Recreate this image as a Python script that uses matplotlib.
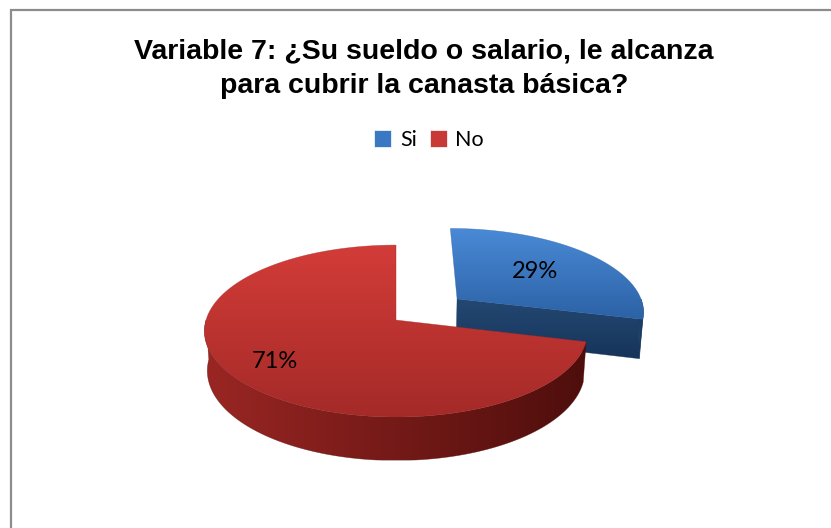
import numpy as np
import matplotlib.pyplot as plt
from matplotlib.patches import Polygon, Patch, Rectangle
from matplotlib.colors import LinearSegmentedColormap

# datos de la variable 7
labels = ['Si', 'No']
values = [29, 71]
explode = [0.42, 0.0]

top_colors = [('#4a8ad6', '#2c62a6'), ('#d33c38', '#a42a28')]
side_colors = [('#234872', '#17345a'), ('#9a2623', '#4e0e0c')]
legend_colors = ['#3a78c4', '#c83a36']
label_r = [0.58, 0.76]

# vista 3D: elevacion, perspectiva y grosor
sin_e = 0.445
cos_e = np.sqrt(1 - sin_e ** 2)
persp = 0.143
height = 0.235

fig = plt.figure(figsize=(8.31, 5.28), dpi=100)
fig.patch.set_facecolor('white')

ax = fig.add_axes([150 / 831, 28 / 528, 550 / 831, 320 / 528])
ax.set_xlim(-1.295, 1.6)
ax.set_ylim(-0.947, 0.737)
ax.set_autoscale_on(False)
ax.axis('off')


def project(X, Y, Z):
    X, Y, Z = np.broadcast_arrays(X, Y, Z)
    k = 1.0 / (1.0 + persp * (Y * cos_e - Z * sin_e))
    return np.column_stack([X * k, (Y * sin_e + Z * cos_e) * k])


def rim(t, ox, oy, z=0.0):
    r = np.radians(t)
    return project(ox + np.cos(r), oy + np.sin(r), z)


def grad_fill(verts, c0, c1, direction='v', z=1):
    patch = Polygon(verts, closed=True, facecolor='none', edgecolor='none', zorder=z)
    ax.add_patch(patch)
    xs, ys = verts[:, 0], verts[:, 1]
    cmap = LinearSegmentedColormap.from_list('g', [c0, c1])
    g = np.linspace(0, 1, 256)
    img = g.reshape(-1, 1) if direction == 'v' else g.reshape(1, -1)
    im = ax.imshow(img, extent=(xs.min(), xs.max(), ys.min(), ys.max()),
                   origin='upper', cmap=cmap, aspect='auto', zorder=z,
                   interpolation='bilinear')
    im.set_clip_path(patch)
    # borde fino para suavizar el recorte
    ax.add_patch(Polygon(verts, closed=True, facecolor='none',
                         edgecolor=c1, lw=0.4, alpha=0.6, zorder=z))


fracs = np.array(values) / sum(values)
start = 90.0
slices = []
for i, f in enumerate(fracs):
    t1 = start
    t0 = start - f * 360
    mid = np.radians((t0 + t1) / 2)
    ox = explode[i] * np.cos(mid)
    oy = explode[i] * np.sin(mid)
    slices.append((i, t0, t1, mid, ox, oy))
    start = t0

# primero lo que queda detras
slices.sort(key=lambda s: -s[5])

z = 1
for i, t0, t1, mid, ox, oy in slices:
    # cara del corte visible
    for t, ok in ((t0, np.cos(np.radians(t0)) > 1e-6), (t1, np.cos(np.radians(t1)) < -1e-6)):
        if ok:
            r = np.radians(t)
            px, py = ox + np.cos(r), oy + np.sin(r)
            verts = project(np.array([ox, px, px, ox]), np.array([oy, py, py, oy]),
                            np.array([0, 0, -height, -height]))
            grad_fill(verts, side_colors[i][0], side_colors[i][1], 'v', z)
            z += 1
    # lado exterior frontal
    for k in (-1, 0, 1):
        a = max(t0, -180 + 360 * k)
        b = min(t1, 360 * k)
        if b > a:
            ts = np.linspace(a, b, 120)
            verts = np.vstack([rim(ts, ox, oy), rim(ts[::-1], ox, oy, -height)])
            grad_fill(verts, side_colors[i][0], side_colors[i][1], 'h', z)
            z += 1
    # cara superior
    ts = np.linspace(t0, t1, 300)
    verts = np.vstack([project(ox, oy, 0.0), rim(ts, ox, oy)])
    grad_fill(verts, top_colors[i][0], top_colors[i][1], 'v', z)
    z += 1

for i, t0, t1, mid, ox, oy in slices:
    lx, ly = project(ox + label_r[i] * np.cos(mid), oy + label_r[i] * np.sin(mid), 0.0)[0]
    ax.text(lx, ly, f'{values[i]}%', ha='center', va='center', fontsize=17,
            family='Lato', color='black', zorder=50)

# titulo
fig.text(424 / 831, 1 - 58 / 528, 'Variable 7: ¿Su sueldo o salario, le alcanza',
         ha='center', va='baseline', fontsize=20.5, fontweight='bold',
         family='Liberation Sans')
fig.text(424 / 831, 1 - 93 / 528, 'para cubrir la canasta básica?',
         ha='center', va='baseline', fontsize=20.5, fontweight='bold',
         family='Liberation Sans')

handles = [Patch(facecolor=c, edgecolor='#ffffff', lw=0.5) for c in legend_colors]
fig.legend(handles, labels, loc='center', bbox_to_anchor=(429 / 831, 1 - 140 / 528),
           ncol=2, frameon=False, prop=dict(family='Lato', size=15.5),
           handlelength=0.8, handleheight=0.8, handletextpad=0.4,
           columnspacing=0.6, borderpad=0)

# marco del grafico
fig.add_artist(Rectangle((11 / 831, -0.05), 1.1, 1 - 9.5 / 528 + 0.05, fill=False,
                         edgecolor='#8c8c8c', lw=1.6, transform=fig.transFigure))

fig.savefig('out.png', dpi=100)
